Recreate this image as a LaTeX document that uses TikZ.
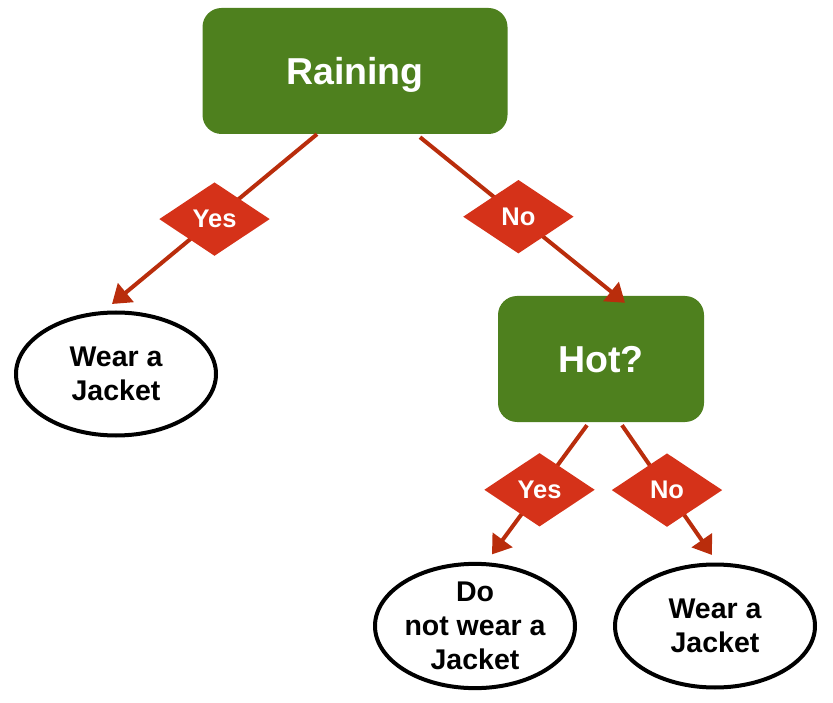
\documentclass[tikz,border=0pt]{standalone}
\usepackage{fontspec}
\setmainfont{Liberation Sans}
\usetikzlibrary{arrows.meta,%
                shapes.geometric}
\definecolor{leafgreen}{RGB}{78,128,30}
\definecolor{labelred}{RGB}{213,50,25}
\definecolor{arrowred}{RGB}{185,45,12}
\tikzstyle{question}=[rectangle, rounded corners=19pt, fill=leafgreen, text=white, font=\bfseries\fontsize{37.5}{40}\selectfont, text depth=0pt, minimum height=126pt]
\tikzstyle{answer}=[ellipse, draw, line width=4pt, minimum width=200pt, minimum height=123pt, inner sep=0pt, align=center, font=\bfseries\fontsize{28.5}{34}\selectfont]
\tikzstyle{choice}=[diamond, fill=labelred, text=white, minimum width=112pt, minimum height=75pt, inner sep=0pt, font=\bfseries\fontsize{25.5}{28}\selectfont]
\tikzstyle{branch}=[draw=arrowred, line width=4pt, -{Triangle[length=18pt,width=24pt]}]
\begin{document}
\begin{tikzpicture}[x=1pt,y=-1pt]
  \useasboundingbox (0,0) rectangle (833,703);
  \node[question, minimum width=305pt] (raining) at (355,71) {Raining};
  \node[question, minimum width=206pt] (hot) at (601,359) {Hot?};
  \node[answer] (wearL) at (116,374) {Wear a\\Jacket};
  \node[answer] (dontR) at (475,626) {Do\\not wear a\\Jacket};
  \node[answer] (wearR) at (715,626) {Wear a\\Jacket};

  \draw[branch] ([xshift=-38pt]raining.south) -- node[choice] (yesRain) {Yes} ([xshift=-4pt,yshift=6.5pt]wearL.north);
  \draw[branch] ([xshift=65pt,yshift=-3pt]raining.south) -- node[choice, pos=0.48] (noRain) {No} ([xshift=24pt,yshift=-7pt]hot.north);
  \draw[branch] ([xshift=-14pt,yshift=-3pt]hot.south) -- node[choice] (yesHot) {Yes} ([xshift=17pt,yshift=7.5pt]dontR.north);
  \draw[branch] ([xshift=21pt,yshift=-3pt]hot.south) -- node[choice] (noHot) {No} ([xshift=-3pt,yshift=7.5pt]wearR.north);
\end{tikzpicture}
\end{document}
